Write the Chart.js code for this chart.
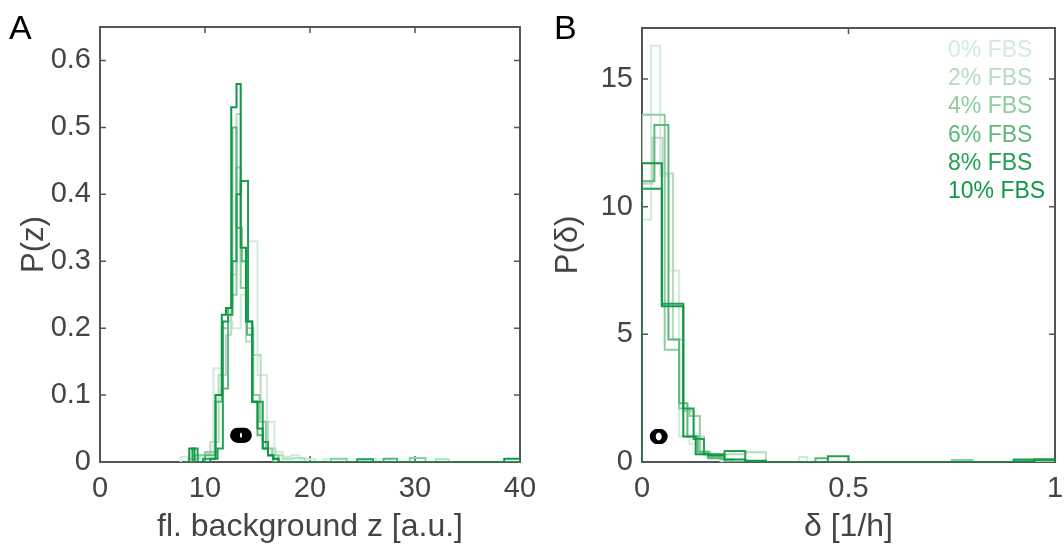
<!DOCTYPE html>
<html><head><meta charset="utf-8">
<script src="https://cdn.jsdelivr.net/npm/chart.js@4"></script>
<style>
body{margin:0;background:#fff;width:1064px;height:546px;overflow:hidden;position:relative;font-family:'Liberation Sans',Arial,sans-serif}
#ca{position:absolute;left:0;top:0}
#cb{position:absolute;left:536px;top:0}
.lab{position:absolute;font-size:34px;color:#000;line-height:normal}
#legend{position:absolute;left:948px;top:35px}
.leg{font-size:23px;line-height:28.2px;height:28.2px;white-space:nowrap}
</style></head><body>
<canvas id="ca" width="536" height="546"></canvas>
<canvas id="cb" width="528" height="546"></canvas>
<div class="lab" style="left:9px;top:8px">A</div>
<div class="lab" style="left:554px;top:8px">B</div>
<div id="legend"></div>
<script>
// ---------- series ----------
const seriesNames = ['0% FBS', '2% FBS', '4% FBS', '6% FBS', '8% FBS', '10% FBS'];
const seriesColors = ['#d3ebd8', '#b5dcbf', '#8fcd9f', '#5db87a', '#22a052', '#0f9748'];

// ---------- panel A: fl. background z (bin edges / probabilities) ----------
const zEdges0 = [7.7, 8.4, 10.0, 10.8, 11.7, 12.6, 13.4, 14.1, 15.0, 15.9, 16.6, 17.4, 18.2, 19.0, 19.8, 20.5, 21.3, 22.0, 25.0, 26.3, 40];
const zVals0  = [0.008, 0, 0.012, 0.14, 0.21, 0.20, 0.25, 0.33, 0.13, 0.06, 0.015, 0.008, 0.01, 0.005, 0.004, 0, 0.004, 0, 0.005, 0];
const zEdges2 = [8.5, 9.5, 10.5, 11.3, 12.0, 12.5, 13.0, 13.4, 13.9, 14.6, 15.3, 16.0, 16.7, 17.4, 18.5, 19.5, 32.0, 33.2, 40];
const zVals2  = [0.005, 0.01, 0.03, 0.13, 0.19, 0.28, 0.52, 0.30, 0.18, 0.16, 0.06, 0.02, 0.01, 0.005, 0.006, 0, 0.004, 0];
const zEdges4 = [9.0, 10.0, 11.0, 11.6, 12.2, 12.6, 13.0, 13.4, 14.0, 14.6, 15.2, 15.8, 16.4, 17.0, 22.0, 23.5, 29.5, 31.0, 40];
const zVals4  = [0.01, 0.015, 0.1, 0.2, 0.22, 0.25, 0.44, 0.26, 0.2, 0.1, 0.06, 0.02, 0.01, 0, 0.005, 0, 0.006, 0];
const zEdges6 = [8.3, 10.0, 11.0, 11.6, 12.2, 12.6, 13.0, 13.5, 14.0, 14.5, 15.0, 15.5, 16.0, 16.5, 27.0, 28.3, 31.5, 40];
const zVals6  = [0, 0.01, 0.09, 0.11, 0.23, 0.50, 0.35, 0.30, 0.19, 0.09, 0.04, 0.02, 0.01, 0, 0.005, 0, 0];
const zEdges8 = [8.8, 9.3, 9.8, 11.2, 11.7, 12.2, 12.6, 13.0, 13.4, 14.1, 14.5, 15.0, 15.5, 16.0, 16.5, 17.0, 24.5, 26.0, 40];
const zVals8  = [0.02, 0, 0.005, 0.02, 0.21, 0.22, 0.30, 0.40, 0.42, 0.21, 0.09, 0.09, 0.03, 0.01, 0.005, 0, 0.004, 0];
const zEdges10 = [8.0, 8.5, 9.0, 9.5, 10.5, 11.0, 11.6, 12.0, 12.5, 13.0, 13.4, 13.9, 14.5, 15.0, 15.5, 16.0, 16.5, 17.0, 38.5, 40];
const zVals10  = [0, 0.02, 0, 0, 0.005, 0.10, 0.22, 0.23, 0.53, 0.565, 0.32, 0.21, 0.09, 0.05, 0.02, 0.01, 0.005, 0, 0.005];
const zMeans = [13.1, 13.25, 13.4, 13.5, 13.6, 13.75];
const zMeanLevel = 0.04;
const zXTicks = [0, 10, 20, 30, 40];
const zYTicks = [0, 0.1, 0.2, 0.3, 0.4, 0.5, 0.6];

// ---------- panel B: delta (bin edges / densities) ----------
const dEdges0 = [0, 0.022, 0.044, 0.066, 0.09, 0.115, 0.14, 0.165, 0.19, 0.38, 0.40, 1.0];
const dVals0  = [9.5, 16.3, 11.2, 7.5, 1.0, 0.7, 0.3, 0.15, 0, 0.2, 0];
const dEdges2 = [0, 0.025, 0.05, 0.075, 0.1, 0.125, 0.15, 0.175, 0.2, 0.25, 0.3, 1.0];
const dVals2  = [10.9, 12.7, 11.3, 4.8, 2.0, 1.0, 0.3, 0.2, 0.3, 0.38, 0];
const dEdges4 = [0, 0.055, 0.09, 0.115, 0.14, 0.165, 0.19, 0.22, 0.75, 0.80, 1.0];
const dVals4  = [13.6, 4.4, 2.1, 1.8, 0.4, 0.2, 0.1, 0, 0.08, 0];
const dEdges6 = [0, 0.03, 0.064, 0.09, 0.11, 0.135, 0.16, 0.2, 0.42, 0.45, 0.9, 1.0];
const dVals6  = [11.0, 13.2, 4.8, 2.3, 1.0, 0.4, 0.15, 0, 0.15, 0, 0.08];
const dEdges8 = [0, 0.048, 0.1, 0.125, 0.15, 0.2, 0.25, 0.45, 0.5, 0.9, 1.0];
const dVals8  = [10.7, 6.2, 2.1, 0.9, 0.3, 0.43, 0, 0.23, 0, 0.1];
const dEdges10 = [0, 0.048, 0.1, 0.13, 0.16, 0.2, 0.25, 0.3, 0.95, 1.0];
const dVals10  = [11.7, 6.1, 1.0, 0.3, 0.25, 0.1, 0.05, 0, 0.1];
const dMeans = [0.037, 0.038, 0.040, 0.041, 0.043, 0.044];
const dMeanLevel = 1.0;
const dXTicks = [0, 0.5, 1];
const dYTicks = [0, 5, 10, 15];

// ---------- helpers ----------
const FONT = "'Liberation Sans', Arial, sans-serif";
const TXT = '#444';

function stairs(edges, vals) {
  const pts = [{x: edges[0], y: 0}];
  for (let i = 0; i < vals.length; i++) {
    pts.push({x: edges[i], y: vals[i]});
    pts.push({x: edges[i + 1], y: vals[i]});
  }
  pts.push({x: edges[edges.length - 1], y: 0});
  return pts;
}

const boxPlugin = {
  id: 'boxTicks',
  beforeDatasetsDraw(chart) {
    const {ctx, chartArea: a} = chart;
    const x = chart.scales.x, y = chart.scales.y;
    ctx.save();
    ctx.strokeStyle = '#555';
    ctx.lineWidth = 2;
    ctx.strokeRect(a.left, a.top, a.right - a.left, a.bottom - a.top);
    ctx.lineWidth = 1.5;
    ctx.beginPath();
    x.ticks.forEach(t => {
      const p = x.getPixelForValue(t.value);
      ctx.moveTo(p, a.bottom); ctx.lineTo(p, a.bottom - 6);
      ctx.moveTo(p, a.top); ctx.lineTo(p, a.top + 6);
    });
    y.ticks.forEach(t => {
      const p = y.getPixelForValue(t.value);
      ctx.moveTo(a.left, p); ctx.lineTo(a.left + 6, p);
      ctx.moveTo(a.right, p); ctx.lineTo(a.right - 6, p);
    });
    ctx.stroke();
    ctx.restore();
  }
};

function makeChart(id, p) {
  const datasets = [{
    data: p.means.map(v => ({x: v, y: p.meanLevel})),
    showLine: false, pointRadius: 6, pointBorderWidth: 3,
    pointBorderColor: '#000', pointBackgroundColor: 'rgba(0,0,0,0)', order: 0
  }];
  p.series.forEach((s, i) => {
    datasets.push({
      data: stairs(s[0], s[1]), showLine: true, pointRadius: 0,
      borderColor: seriesColors[i], borderWidth: 2, fill: false,
      order: 6 - i
    });
  });
  return new Chart(document.getElementById(id), {
    type: 'scatter',
    data: {datasets},
    options: {
      responsive: false, animation: false, devicePixelRatio: 1,
      layout: {padding: {top: p.top, right: p.right, left: 0, bottom: 0}},
      plugins: {legend: {display: false}, tooltip: {enabled: false}},
      scales: {
        x: {
          type: 'linear', min: p.xMin, max: p.xMax,
          grid: {display: false, drawTicks: false}, border: {display: false},
          ticks: {font: {family: FONT, size: 29}, color: TXT, padding: 10, maxRotation: 0, autoSkip: false,
                  callback: v => String(v)},
          afterBuildTicks: s => { s.ticks = p.xTicks.map(v => ({value: v})); },
          afterFit: s => { s.height = 546 - 462; s.paddingLeft = 0; s.paddingRight = 0; },
          title: {display: true, text: p.xTitle, font: {family: FONT, size: 32}, color: TXT, padding: {top: 0, bottom: 0}}
        },
        y: {
          type: 'linear', min: p.yMin, max: p.yMax,
          grid: {display: false, drawTicks: false}, border: {display: false},
          ticks: {font: {family: FONT, size: 29}, color: TXT, padding: 9, autoSkip: false,
                  callback: v => String(v)},
          afterBuildTicks: s => { s.ticks = p.yTicks.map(v => ({value: v})); },
          afterFit: s => { s.width = p.yWidth; s.paddingTop = 0; s.paddingBottom = 0; },
          title: {display: true, text: p.yTitle, font: {family: FONT, size: 31}, color: TXT, padding: {top: p.yTitlePad, bottom: 0}}
        }
      }
    },
    plugins: [boxPlugin]
  });
}

makeChart('ca', {
  series: [[zEdges0, zVals0], [zEdges2, zVals2], [zEdges4, zVals4], [zEdges6, zVals6], [zEdges8, zVals8], [zEdges10, zVals10]],
  means: zMeans, meanLevel: zMeanLevel,
  xMin: 0, xMax: 40, yMin: 0, yMax: 0.65, xTicks: zXTicks, yTicks: zYTicks,
  xTitle: 'fl. background z [a.u.]', yTitle: 'P(z)',
  top: 27, right: 16, yWidth: 100, yTitlePad: 16
});

makeChart('cb', {
  series: [[dEdges0, dVals0], [dEdges2, dVals2], [dEdges4, dVals4], [dEdges6, dVals6], [dEdges8, dVals8], [dEdges10, dVals10]],
  means: dMeans, meanLevel: dMeanLevel,
  xMin: 0, xMax: 1, yMin: 0, yMax: 17, xTicks: dXTicks, yTicks: dYTicks,
  xTitle: 'δ [1/h]', yTitle: 'P(δ)',
  top: 28, right: 2, yWidth: 106, yTitlePad: 14
});

const leg = document.getElementById('legend');
seriesNames.forEach((n, i) => {
  const d = document.createElement('div');
  d.className = 'leg';
  d.style.color = seriesColors[i];
  d.textContent = n;
  leg.appendChild(d);
});
</script>
</body></html>
